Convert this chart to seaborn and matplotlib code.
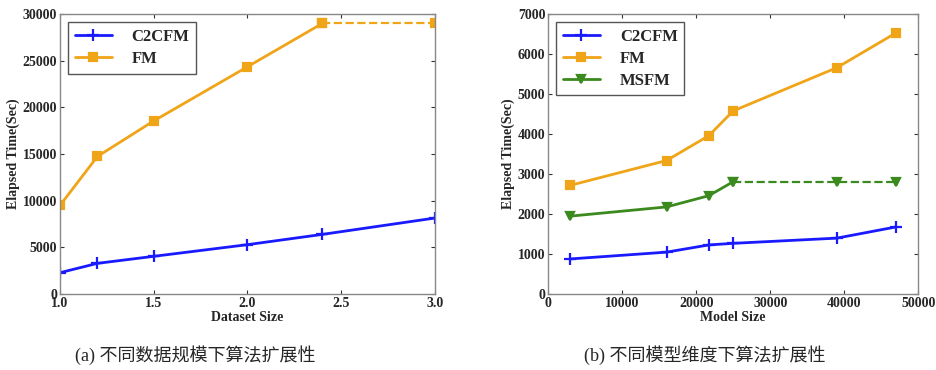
import numpy as np
import pandas as pd
import matplotlib
matplotlib.use('Agg')
import matplotlib.pyplot as plt
import seaborn as sns

sns.set_style('ticks')
plt.rcParams['font.family'] = ['Liberation Serif', 'DejaVu Serif']
plt.rcParams['font.weight'] = 'bold'
plt.rcParams['xtick.direction'] = 'in'
plt.rcParams['ytick.direction'] = 'in'

# (a) 数据规模
data_size = [1.0, 1.2, 1.5, 2.0, 2.4, 3.0]
c2cfm_a = [2300, 3300, 4050, 5300, 6400, 8150]
fm_a = [9500, 14750, 18550, 24350, 29000, 29000]   # 最后一段为虚线

# (b) 模型维度
model_size = [3000, 16000, 21700, 25000, 39000, 47000]
c2cfm_b = [880, 1050, 1230, 1270, 1400, 1680]
fm_b = [2720, 3340, 3960, 4580, 5660, 6530]
msfm_b = [1950, 2180, 2460, 2810, 2810, 2810]     # 25000 之后为虚线

BLUE = '#1a1aff'
ORANGE = '#f0a417'
GREEN = '#3a8a1e'

fig = plt.figure(figsize=(9.37, 3.70), dpi=100)
ax1 = fig.add_axes([0.064, 0.205, 0.400, 0.757])
ax2 = fig.add_axes([0.585, 0.205, 0.395, 0.757])


def draw(ax, x, y, color, marker, label, solid_end=None, ms=6):
    n = len(x) if solid_end is None else solid_end + 1
    sns.lineplot(x=x[:n], y=y[:n], ax=ax, color=color, marker=marker, lw=2,
                 markersize=ms, markeredgecolor=color, mew=1.6, label=label)
    if solid_end is not None:
        sns.lineplot(x=x[solid_end:], y=y[solid_end:], ax=ax, color=color,
                     marker=marker, lw=1.6, ls='--', markersize=ms,
                     markeredgecolor=color, mew=1.6, legend=False)


draw(ax1, data_size, c2cfm_a, BLUE, '+', 'C2CFM', ms=8)
draw(ax1, data_size, fm_a, ORANGE, 's', 'FM', solid_end=4)
ax1.set_xlim(1.0, 3.0)
ax1.set_ylim(0, 30000)
ax1.set_xticks([1.0, 1.5, 2.0, 2.5, 3.0])
ax1.set_xlabel('Dataset Size', fontsize=10, fontweight='bold', labelpad=1)
ax1.set_ylabel('Elapsed Time(Sec)', fontsize=10, fontweight='bold', labelpad=2)

draw(ax2, model_size, c2cfm_b, BLUE, '+', 'C2CFM', ms=8)
draw(ax2, model_size, fm_b, ORANGE, 's', 'FM')
draw(ax2, model_size, msfm_b, GREEN, 'v', 'MSFM', solid_end=3)
ax2.set_xlim(0, 50000)
ax2.set_ylim(0, 7000)
ax2.set_xlabel('Model Size', fontsize=10, fontweight='bold', labelpad=1)
ax2.set_ylabel('Elapsed Time(Sec)', fontsize=10, fontweight='bold', labelpad=2)

for ax in (ax1, ax2):
    ax.tick_params(labelsize=10, top=True, right=True, length=3, width=0.8,
                   color='#333333', pad=2)
    for s in ax.spines.values():
        s.set_color('#888888')
        s.set_linewidth(1.0)
    for lb in ax.get_xticklabels() + ax.get_yticklabels():
        lb.set_fontweight('bold')
    leg = ax.legend(loc='upper left', fontsize=12, fancybox=False,
                    framealpha=1, edgecolor='#555555', handlelength=2.2,
                    borderpad=0.4, labelspacing=0.35, handletextpad=1.2)
    leg.get_frame().set_linewidth(1.0)
    for t in leg.get_texts():
        t.set_fontweight('bold')

cap_font = ['Liberation Serif', 'Noto Sans CJK SC']
fig.text(0.208, 0.04, '(a) 不同数据规模下算法扩展性', ha='center', va='center',
         fontsize=13, family=cap_font, fontweight='normal')
fig.text(0.752, 0.04, '(b) 不同模型维度下算法扩展性', ha='center', va='center',
         fontsize=13, family=cap_font, fontweight='normal')

fig.savefig('out.png', dpi=100)
